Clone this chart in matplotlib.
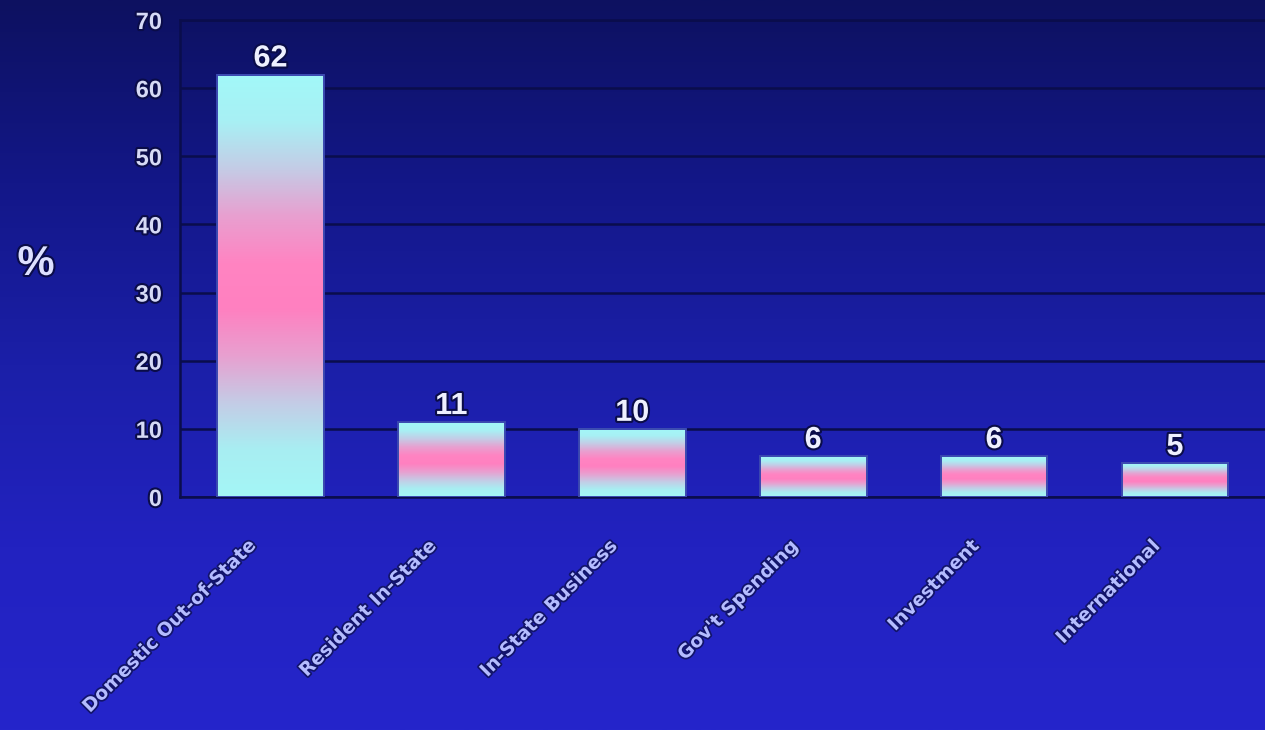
import matplotlib
matplotlib.use('Agg')
import matplotlib.pyplot as plt
import numpy as np
from matplotlib.colors import LinearSegmentedColormap
import matplotlib.patheffects as pe
from matplotlib.transforms import offset_copy

categories = ['Domestic Out-of-State', 'Resident In-State', 'In-State Business',
              "Gov't Spending", 'Investment', 'International']
values = [62, 11, 10, 6, 6, 5]
yticks = [0, 10, 20, 30, 40, 50, 60, 70]

plt.rcParams['font.family'] = ['Liberation Sans', 'DejaVu Sans']

fig = plt.figure(figsize=(12.65, 7.3), dpi=100)

# background gradient
bg = fig.add_axes([0, 0, 1, 1], zorder=-10)
bg_cmap = LinearSegmentedColormap.from_list(
    'bg', ['#0d1160', '#131788', '#1b1fa8', '#2222c0', '#2525cb'])
grad = np.linspace(0, 1, 256).reshape(-1, 1)
bg.imshow(grad, aspect='auto', cmap=bg_cmap, extent=[0, 1, 0, 1], origin='upper')
bg.set_axis_off()

ax = fig.add_axes([0.1423, 0.3192, 0.858, 0.6534])
ax.set_facecolor('none')

x = np.arange(len(categories))
bars = ax.bar(x, values, width=0.59, color='none', edgecolor='#3a48b0',
              linewidth=1.4, zorder=4)

bar_cmap = LinearSegmentedColormap.from_list(
    'bar', ['#a4f6f6', '#a8eef2', '#c4cce6', '#e8a0d0', '#ff80c0',
            '#ff84c2', '#e8a0d0', '#c4cce6', '#a8f0f4', '#a2f8f8'])
bgrad = np.linspace(0, 1, 256).reshape(-1, 1)
for b in bars:
    x0 = b.get_x()
    w = b.get_width()
    h = b.get_height()
    ax.imshow(bgrad, aspect='auto', cmap=bar_cmap,
              extent=[x0, x0 + w, 0, h], origin='lower', zorder=3)

ax.set_xlim(-0.5, 5.5)
ax.set_ylim(0, 70)
ax.set_yticks(yticks)
ax.set_xticks([])
ax.yaxis.grid(True, color='#0a0d4c', linewidth=1.8, zorder=1)
ax.set_axisbelow(True)
ax.spines['right'].set_visible(False)
for side in ['left', 'bottom', 'top']:
    ax.spines[side].set_color('#0a0d4c')
    ax.spines[side].set_linewidth(1.8)

dark = [pe.withStroke(linewidth=3, foreground='#0a0c48')]
ax.tick_params(axis='y', length=0, pad=13, labelsize=17, labelcolor='#d6daf6')
for t in ax.get_yticklabels():
    t.set_fontweight('bold')
    t.set_path_effects(dark)

for xi, v in zip(x, values):
    ax.text(xi, v, str(v), ha='center', va='bottom', fontsize=22,
            fontweight='bold', color='#eef0ff', path_effects=dark,
            transform=offset_copy(ax.transData, fig=fig, x=0, y=1, units='dots'))

lab_tr = offset_copy(ax.transData, fig=fig, x=-18, y=-46, units='dots')
for xi, c in zip(x, categories):
    ax.text(xi, 0, c, rotation=45, rotation_mode='anchor', ha='right',
            va='center', fontsize=13.5, fontweight='bold', color='#b4bcff',
            family=['DejaVu Sans'],
            path_effects=[pe.withStroke(linewidth=2.5, foreground='#12146a')],
            transform=lab_tr)

fig.text(36 / 1265, 1 - 264 / 730, '%', ha='center', va='center',
         fontsize=30, fontweight='bold', color='#dde0ff',
         path_effects=dark)

fig.savefig('out.png', dpi=100)
